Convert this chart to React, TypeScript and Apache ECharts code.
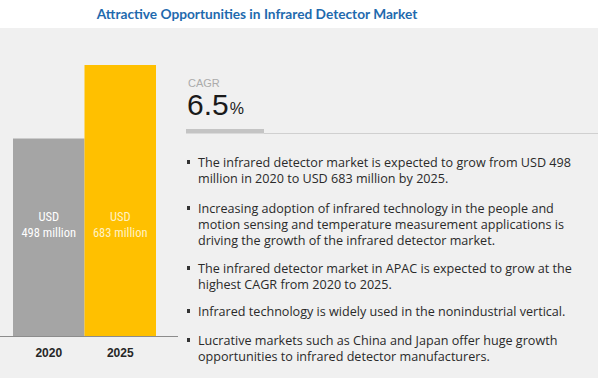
import React, { useEffect, useRef } from "react";
import * as echarts from "echarts";

const title = "Attractive Opportunities in Infrared Detector Market";
const years = ["2020", "2025"];
const values = [498, 683];
const barColors = ["#A5A5A5", "#FFC000"];
const labelColors = ["#FFFFFF", "#FFF2C4"];
const cagrLabel = "CAGR";
const cagrValue = "6.5";
const cagrUnit = "%";
const bullets = [
  "The infrared detector market is expected to grow from USD 498\nmillion in 2020 to USD 683 million by 2025.",
  "Increasing adoption of infrared technology in the people and\nmotion sensing and temperature measurement applications is\ndriving the growth of the infrared detector market.",
  "The infrared detector market in APAC is expected to grow at the\nhighest CAGR from 2020 to 2025.",
  "Infrared technology is widely used in the nonindustrial vertical.",
  "Lucrative markets such as China and Japan offer huge growth\nopportunities to infrared detector manufacturers.",
];
const bulletTops = [154, 200, 260, 303, 332];

export default function App() {
  const ref = useRef<HTMLDivElement>(null);
  useEffect(() => {
    if (!ref.current) return;
    const chart = echarts.init(ref.current, undefined, { renderer: "svg" });
    const textFont = "'Open Sans', 'Liberation Sans', sans-serif";
    const bulletGraphics: any[] = [];
    bullets.forEach((b, i) => {
      bulletGraphics.push({
        type: "rect",
        shape: { x: 187, y: bulletTops[i] + 6, width: 3, height: 4 },
        style: { fill: "#333" },
        z: 5,
      });
      bulletGraphics.push({
        type: "text",
        x: 198,
        y: bulletTops[i],
        style: {
          text: b,
          fill: "#2A2A2A",
          font: `12.6px ${textFont}`,
          lineHeight: 16,
          textVerticalAlign: "top",
        },
        z: 5,
      });
    });
    chart.setOption({
      animation: false,
      backgroundColor: "#FFFFFF",
      title: {
        text: title,
        left: 252,
        textAlign: "center",
        top: 1,
        textStyle: {
          color: "#1F6AAE",
          fontSize: 13.7,
          fontWeight: "bold",
          fontFamily: "Lato, 'Noto Sans', sans-serif",
        },
      },
      grid: { left: 13, top: 65, width: 143, bottom: 42, containLabel: false },
      xAxis: {
        type: "category",
        data: years,
        axisLine: { show: false },
        axisTick: { show: false },
        axisLabel: {
          color: "#262626",
          fontWeight: "bold",
          fontSize: 12,
          fontFamily: "'Liberation Sans', Arial, sans-serif",
          margin: 11,
        },
      },
      yAxis: {
        type: "value",
        min: 0,
        max: "dataMax",
        show: false,
        splitLine: { show: false },
      },
      series: [
        {
          type: "bar",
          barCategoryGap: "0%",
          barWidth: 71.5,
          z: 3,
          data: values.map((v, i) => ({
            value: v,
            itemStyle: { color: barColors[i] },
            label: { color: labelColors[i] },
          })),
          label: {
            show: true,
            position: "insideBottom",
            distance: 96,
            formatter: "USD\n{c} million",
            fontSize: 12.5,
            lineHeight: 16,
            fontFamily: "'Liberation Sans Narrow', 'Roboto Condensed', Roboto, sans-serif",
          },
        },
      ],
      graphic: [
        {
          type: "rect",
          shape: { x: 0, y: 28, width: 598, height: 350 },
          style: { fill: "#F0F0F0" },
          z: 0,
        },
        {
          type: "line",
          shape: { x1: 0, y1: 336.5, x2: 178, y2: 336.5 },
          style: { stroke: "#8C8C8C", lineWidth: 1 },
          z: 4,
        },
        {
          type: "text",
          x: 188,
          y: 77,
          style: {
            text: cagrLabel,
            fill: "#ABABAB",
            font: "11px 'Liberation Sans', Arial, sans-serif",
            lineHeight: 11,
            textVerticalAlign: "top",
          },
          z: 5,
        },
        {
          type: "text",
          x: 187,
          y: 89,
          style: {
            text: `{a|${cagrValue}}{b|${cagrUnit}}`,
            rich: {
              a: { fontSize: 30, fill: "#1A1A1A", fontFamily: "'Liberation Sans', Arial, sans-serif" } as any,
              b: { fontSize: 16, fill: "#1A1A1A", fontFamily: "'Liberation Sans', Arial, sans-serif", padding: [9, 0, 0, 1] } as any,
            },
            textVerticalAlign: "top",
          },
          z: 5,
        },
        {
          type: "rect",
          shape: { x: 186, y: 129, width: 78, height: 4.5 },
          style: { fill: "#C4C4C4" },
          z: 5,
        },
        {
          type: "line",
          shape: { x1: 264, y1: 133.5, x2: 598, y2: 133.5 },
          style: { stroke: "#D0D0D0", lineWidth: 1 },
          z: 5,
        },
        ...bulletGraphics,
      ],
    });
    return () => chart.dispose();
  }, []);
  return (
    <div
      ref={ref}
      style={{ position: "fixed", left: 0, top: 0, width: 598, height: 378 }}
    />
  );
}
